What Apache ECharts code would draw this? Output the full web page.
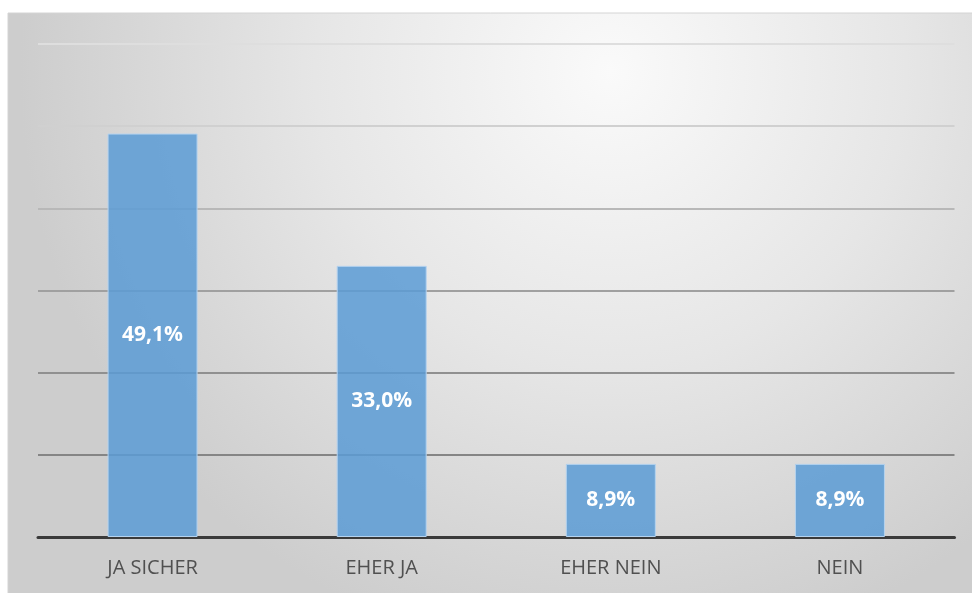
<!DOCTYPE html>
<html>
<head>
<meta charset="utf-8">
<script src="https://cdn.jsdelivr.net/npm/echarts@6/dist/echarts.min.js"></script>
<style>
html,body{margin:0;padding:0;background:#fff;}
#c{width:972px;height:593px;}
</style>
</head>
<body>
<div id="c"></div>
<script>
const categories = ['JA SICHER', 'EHER JA', 'EHER NEIN', 'NEIN'];
const values = [49.1, 33.0, 8.9, 8.9];
const yTicks = [0, 10, 20, 30, 40, 50, 60];

const chart = echarts.init(document.getElementById('c'));
chart.setOption({
  animation: false,
  graphic: [{
    type: 'rect', z: -10, silent: true,
    shape: {x: 8, y: 13, width: 972, height: 590},
    style: {
      fill: new echarts.graphic.RadialGradient(0.62, 0.1, 1.0, [
        {offset: 0, color: '#fafafa'},
        {offset: 0.5, color: '#e6e6e6'},
        {offset: 1, color: '#cdcdcd'}
      ]),
      stroke: '#d4d4d4', lineWidth: 1
    }
  }],
  grid: {left: 38, right: 17.5, top: 44, bottom: 56},
  xAxis: {
    type: 'category', data: categories,
    axisTick: {show: false},
    axisLine: {show: true, lineStyle: {color: '#3a3a3a', width: 3}},
    axisLabel: {color: '#505050', fontSize: 20, fontFamily: 'Open Sans', margin: 21}
  },
  yAxis: {
    type: 'value', min: yTicks[0], max: yTicks[yTicks.length - 1], interval: 10,
    axisLabel: {show: false},
    axisLine: {show: false}, axisTick: {show: false},
    splitLine: {lineStyle: {width: 2, color: ['#888', '#858585', '#909090', '#a0a0a0', '#b8b8b8', '#d0d0d0', '#dedede']}}
  },
  series: [{
    type: 'bar', data: values, barWidth: 90, z: 1,
    itemStyle: {color: 'rgba(91,155,213,0.85)', borderColor: '#b5d3ef', borderWidth: 1},
    label: {
      show: true, position: 'inside', color: '#fff', fontSize: 21, fontWeight: 'bold',
      fontFamily: 'Open Sans',
      formatter: p => p.value.toFixed(1).replace('.', ',') + '%'
    }
  }]
});
</script>
</body>
</html>
